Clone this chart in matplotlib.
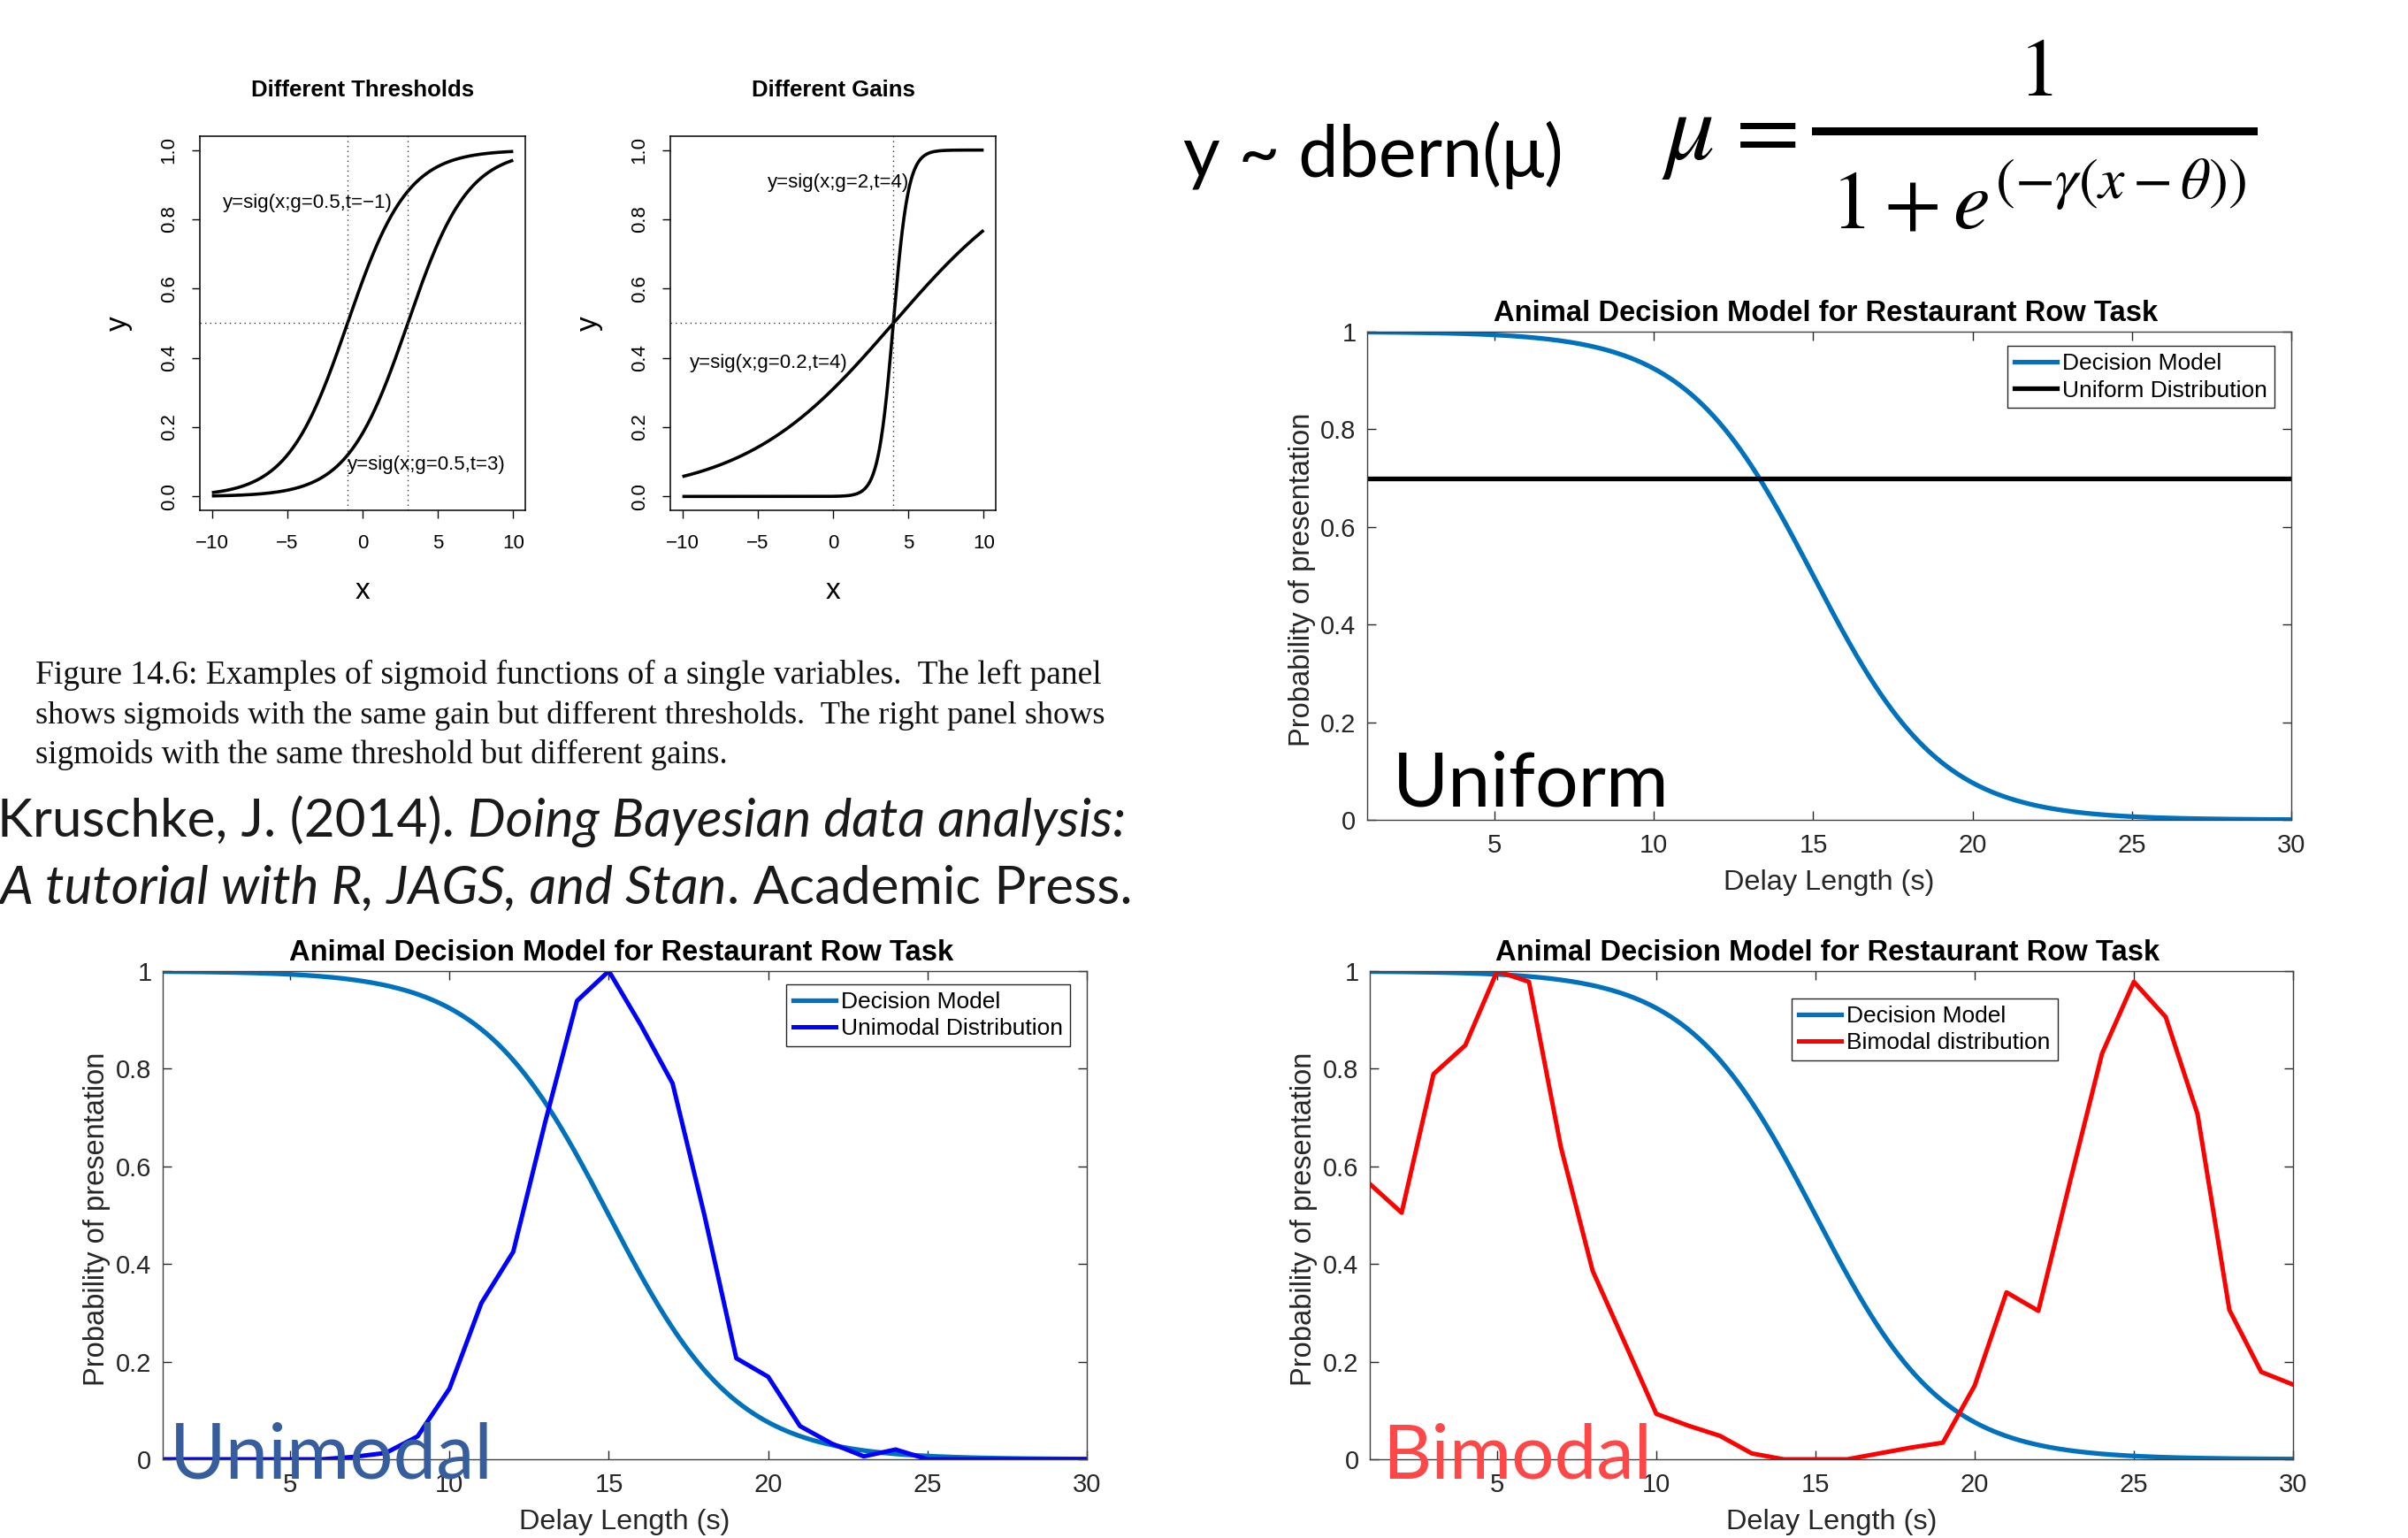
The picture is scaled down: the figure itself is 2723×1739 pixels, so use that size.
import numpy as np
import matplotlib
matplotlib.use('Agg')
import matplotlib.pyplot as plt
from matplotlib.lines import Line2D

plt.rcParams['font.family'] = ['Liberation Sans', 'DejaVu Sans']
plt.rcParams['mathtext.fontset'] = 'stix'

W, H = 2723, 1739

# ---------------- data ----------------
sig_x_min, sig_x_max = -10, 10
left_gain = 0.5
left_thresholds = [-1, 3]
right_gains = [2, 0.2]
right_threshold = 4
r_xticks = [-10, -5, 0, 5, 10]
r_xticklabels = ['\u221210', '\u22125', '0', '5', '10']
r_yticks = [0.0, 0.2, 0.4, 0.6, 0.8, 1.0]
r_yticklabels = ['0.0', '0.2', '0.4', '0.6', '0.8', '1.0']
left_labels = ['y=sig(x;g=0.5,t=\u22121)', 'y=sig(x;g=0.5,t=3)']
left_label_pos = [(-9.3, 0.847), (-1.03, 0.092)]
right_labels = ['y=sig(x;g=2,t=4)', 'y=sig(x;g=0.2,t=4)']
right_label_pos = [(-4.37, 0.905), (-9.53, 0.386)]

delay = list(range(1, 31))
decision_gamma = 0.5
decision_theta = 15
uniform_level = 0.7
unimodal = [0, 0, 0, 0, 0, 0, 0.005, 0.013, 0.047, 0.145, 0.32, 0.425, 0.69, 0.939,
            1.0, 0.89, 0.77, 0.50, 0.207, 0.169, 0.068, 0.032, 0.006, 0.02,
            0, 0, 0, 0, 0, 0]
bimodal = [0.564, 0.505, 0.789, 0.848, 1.0, 0.978, 0.64, 0.386, 0.24, 0.093,
           0.069, 0.048, 0.012, 0, 0, 0, 0.012, 0.024, 0.034, 0.151,
           0.342, 0.304, 0.57, 0.831, 0.978, 0.906, 0.707, 0.306, 0.179, 0.153]
m_xticks = [5, 10, 15, 20, 25, 30]
m_yticks = [0, 0.2, 0.4, 0.6, 0.8, 1]
m_yticklabels = ['0', '0.2', '0.4', '0.6', '0.8', '1']
m_title = 'Animal Decision Model for Restaurant Row Task'

caption_lines = [
    'Figure 14.6: Examples of sigmoid functions of a single variables.  The left panel',
    'shows sigmoids with the same gain but different thresholds.  The right panel shows',
    'sigmoids with the same threshold but different gains.',
]
cite1 = [('Kruschke, J. (2014). ', 'normal'), ('Doing Bayesian data analysis:', 'italic')]
cite2 = [('A tutorial with R, JAGS, and Stan', 'italic'), ('. Academic Press.', 'normal')]

# ---------------- figure ----------------
fig = plt.figure(figsize=(W / 100, H / 100), dpi=100)
fig.patch.set_facecolor('white')
renderer = fig.canvas.get_renderer()


def P(x, y):
    return (x / W, 1 - y / H)


def rect(l, t, r, b):
    return [l / W, 1 - b / H, (r - l) / W, (b - t) / H]


def width_of(t):
    return t.get_window_extent(renderer).width


def fit_width(t, target):
    t.set_fontsize(t.get_fontsize() * target / width_of(t))
    return t


def pieces(x0, y, parts, target, size, family, color='#1a1a1a'):
    ts = [fig.text(*P(x0, y), s, fontsize=size, style=st, family=family,
                   va='baseline', ha='left', color=color) for s, st in parts]
    total = sum(width_of(t) for t in ts)
    k = target / total
    for t in ts:
        t.set_fontsize(size * k)
    x = x0
    for t in ts:
        t.set_position(P(x, y))
        x += width_of(t)


# ---- R style sigmoid panels ----
def r_panel(box, title, params, vlines, labels, label_pos):
    l, t, r, b = box
    ax = fig.add_axes(rect(l, t, r, b))
    ax.set_xlim(-10.8, 10.8)
    ax.set_ylim(-0.04, 1.04)
    xs = np.linspace(sig_x_min, sig_x_max, 500)
    for g, th in params:
        ax.plot(xs, 1 / (1 + np.exp(-g * (xs - th))), color='black', lw=2.6,
                solid_capstyle='butt')
    ax.axhline(0.5, ls=(0, (1, 3)), color='#333333', lw=1.0)
    for v in vlines:
        ax.axvline(v, ls=(0, (1, 3)), color='#333333', lw=1.0)
    ax.set_xticks(r_xticks)
    ax.set_xticklabels(r_xticklabels)
    ax.set_yticks(r_yticks)
    ax.set_yticklabels(r_yticklabels, rotation=90, va='center')
    ax.tick_params(direction='out', length=6.5, width=1.0, labelsize=16, colors='black')
    ax.tick_params(axis='x', pad=13)
    ax.tick_params(axis='y', pad=11)
    for s in ax.spines.values():
        s.set_linewidth(1.1)
        s.set_color('black')
    for s, (x, y) in zip(labels, label_pos):
        ax.text(x, y, s, fontsize=16, ha='left', va='center')
    fig.text(*P((l + r) / 2, t - 45), title, fontsize=18.5, fontweight='bold',
             ha='center', va='baseline')
    fig.text(*P((l + r) / 2, 677), 'x', fontsize=24, ha='center', va='baseline')
    fig.text(*P(l - 92, (t + b) / 2), 'y', fontsize=24, ha='center', va='center',
             rotation=90)
    return ax


r_panel((226, 154, 594, 577), 'Different Thresholds',
        [(left_gain, th) for th in left_thresholds], left_thresholds,
        left_labels, left_label_pos)
r_panel((758, 154, 1126, 577), 'Different Gains',
        [(g, right_threshold) for g in right_gains], [right_threshold],
        right_labels, right_label_pos)

# ---- caption ----
cap_sizes = []
for i, (line, yb) in enumerate(zip(caption_lines, [773, 818, 863])):
    t = fig.text(*P(40, yb), line, fontsize=28, family='Liberation Serif',
                 ha='left', va='baseline', color='#111111')
    if i < 2:
        fit_width(t, 1207)
        cap_sizes.append(t.get_fontsize())
    else:
        t.set_fontsize(np.mean(cap_sizes))

# ---- citation ----
pieces(-3, 946, cite1, 1279, 50, 'Lato')
pieces(0, 1022, cite2, 1280, 50, 'Lato')

# ---- equations ----
t = fig.text(*P(1338, 199), 'y ~ dbern(\u03bc)', fontsize=60, family='Lato',
             ha='left', va='baseline', color='black')
fit_width(t, 430)
fig.text(*P(1879, 180), r'$\mu$', fontsize=80, ha='left', va='baseline')
fig.text(*P(1963, 180), '=', fontsize=76, family='STIXGeneral', ha='left',
         va='baseline')
fig.add_artist(Line2D([2053 / W, 2548 / W], [1 - 148 / H, 1 - 148 / H],
                      transform=fig.transFigure, color='black', lw=6.5))
fig.text(*P(2302, 108), r'$1$', fontsize=68, ha='center', va='baseline')
t = fig.text(*P(2070, 258), r'$1+e^{(-\gamma(x-\theta))}$', fontsize=64,
             ha='left', va='baseline')
fit_width(t, 470)


# ---- MATLAB style panels ----
def matlab_axes(box):
    l, t, r, b = box
    ax = fig.add_axes(rect(l, t, r, b))
    ax.set_xlim(1, 30)
    ax.set_ylim(0, 1)
    ax.set_xticks(m_xticks)
    ax.set_yticks(m_yticks)
    ax.set_yticklabels(m_yticklabels)
    ax.tick_params(direction='in', top=True, right=True, length=7, width=1.0,
                   colors='#262626', labelsize=21)
    ax.tick_params(axis='x', pad=11)
    ax.tick_params(axis='y', pad=9)
    for s in ax.spines.values():
        s.set_color('#404040')
        s.set_linewidth(1.0)
    fig.text(*P((l + r) / 2 - 4, t - 12), m_title, fontsize=23.6, fontweight='bold',
             ha='center', va='baseline', color='black')
    fig.text(*P((l + r) / 2, b + 79), 'Delay Length (s)', fontsize=23.4,
             ha='center', va='baseline', color='#262626')
    fig.text(*P(l - 74, (t + b) / 2 + 4), 'Probability of presentation',
             fontsize=23.5, rotation=90, ha='center', va='center', color='#262626')
    return ax


def decision(ax):
    xs = np.linspace(delay[0], delay[-1], 500)
    ax.plot(xs, 1 / (1 + np.exp(decision_gamma * (xs - decision_theta))),
            color='#0072BD', lw=3.8, label='Decision Model')


def mlegend(ax, anchor):
    leg = ax.legend(loc='upper right', bbox_to_anchor=anchor, fontsize=19,
                    frameon=True, fancybox=False, edgecolor='#262626',
                    framealpha=1, borderpad=0.3, labelspacing=0.25,
                    handlelength=1.82, handletextpad=0.25, borderaxespad=0)
    leg.get_frame().set_linewidth(1.0)


box_uni = (1546, 375, 2591, 927)
ax1 = matlab_axes(box_uni)
decision(ax1)
ax1.plot(delay, [uniform_level] * len(delay), color='black', lw=3.8,
         label='Uniform Distribution')
mlegend(ax1, (0.982, 0.971))

box_unimodal = (184, 1098, 1229, 1650)
ax2 = matlab_axes(box_unimodal)
decision(ax2)
ax2.plot(delay, unimodal, color='#0000FF', lw=3.6, label='Unimodal Distribution')
mlegend(ax2, (0.982, 0.973))

box_bimodal = (1549, 1098, 2593, 1650)
ax3 = matlab_axes(box_bimodal)
decision(ax3)
ax3.plot(delay, bimodal, color='#FF0000', lw=3.6, label='Bimodal distribution')
mlegend(ax3, (0.745, 0.944))

# ---- big overlay words ----
fit_width(fig.text(*P(1575, 912), 'Uniform', fontsize=80, family='Lato',
                   ha='left', va='baseline', color='black'), 313)
fit_width(fig.text(*P(192, 1672), 'Unimodal', fontsize=80, family='Lato',
                   ha='left', va='baseline', color='#365E9E'), 366)
fit_width(fig.text(*P(1563, 1672), 'Bimodal', fontsize=80, family='Lato',
                   ha='left', va='baseline', color='#FF4747'), 305)

fig.savefig('out.png', dpi=100, facecolor='white')
